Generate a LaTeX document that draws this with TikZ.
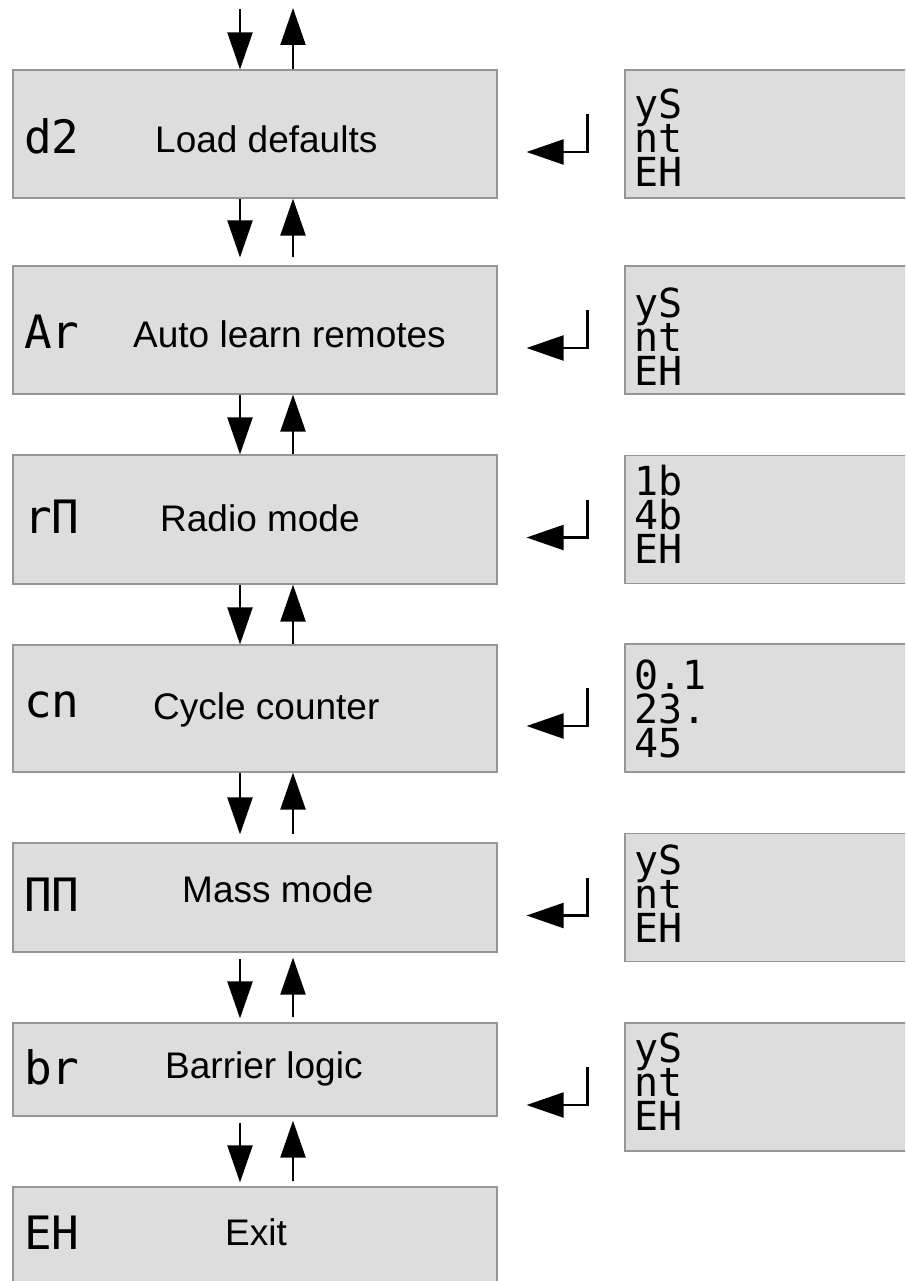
\documentclass[tikz,border=0pt]{standalone}
\usepackage{fontspec}
\setmainfont{Liberation Sans}
\newfontfamily\segfont{DejaVu Sans Mono}
\usetikzlibrary{arrows.meta,calc}
\definecolor{boxfill}{RGB}{221,221,221}
\definecolor{boxedge}{RGB}{150,150,150}
\newcommand{\optlist}[3]{\vtop{\baselineskip=34pt\lineskiplimit=-100pt\lineskip=0pt\hbox{#1}\hbox{#2}\hbox{#3}}}
\begin{document}
\begin{tikzpicture}[x=1pt,y=-1pt,
  menubox/.style={draw=boxedge, fill=boxfill, line width=1.2pt, rectangle, inner sep=0pt, minimum width=484pt},
  optbox/.style={draw=boxedge, fill=boxfill, line width=1.2pt, rectangle, inner sep=0pt, minimum width=340pt, minimum height=128pt},
  codetext/.style={anchor=base west, inner sep=0pt, font={\segfont\fontsize{46}{46}\selectfont}},
  opttext/.style={anchor=base west, inner sep=0pt, font={\segfont\fontsize{40}{34}\selectfont}},
  menutext/.style={anchor=base west, inner sep=0pt, font={\fontsize{37}{44}\selectfont}},
  flow/.style={line width=2.2pt, -{Triangle[length=37pt,width=25pt]}},
]
\useasboundingbox (0,0) rectangle (905,1281);
\clip (0,0) rectangle (905,1281);

% menu boxes
\node[menubox, minimum height=128pt] (b1) at (255,134) {};
\node[menubox, minimum height=128pt] (b2) at (255,330) {};
\node[menubox, minimum height=129pt] (b3) at (255,519.5) {};
\node[menubox, minimum height=127pt] (b4) at (255,708.5) {};
\node[menubox, minimum height=109pt] (b5) at (255,897.5) {};
\node[menubox, minimum height=93pt]  (b6) at (255,1069.5) {};
\node[menubox, minimum height=108pt] (b7) at (255,1241) {};

% option boxes
\node[optbox] (r1) at (795,134) {};
\node[optbox] (r2) at (795,330) {};
\node[optbox] (r3) at (795,519.5) {};
\node[optbox] (r4) at (795,708) {};
\node[optbox] (r5) at (795,897.5) {};
\node[optbox] (r6) at (795,1087) {};

% codes
\node[codetext] (c1) at (24,154) {d2};
\node[codetext] (c2) at (24,348) {Ar};
\node[codetext] (c3) at (24,533) {rΠ};
\node[codetext] (c4) at (24,717) {cn};
\node[codetext] (c5) at (24,911) {ΠΠ};
\node[codetext] (c6) at (24,1084) {br};
\node[codetext] (c7) at (24,1249) {EH};

% labels
\node[menutext] (t1) at (155,153) {Load defaults};
\node[menutext] (t2) at (133,347) {Auto learn remotes};
\node[menutext] (t3) at (160,531) {Radio mode};
\node[menutext] (t4) at (153,719) {Cycle counter};
\node[menutext] (t5) at (182,902) {Mass mode};
\node[menutext] (t6) at (165,1078) {Barrier logic};
\node[menutext] (t7) at (225,1245) {Exit};

% option texts
\node[opttext] (o1) at (634,119) {\optlist{yS}{nt}{EH}};
\node[opttext] (o2) at (634,317) {\optlist{yS}{nt}{EH}};
\node[opttext] (o3) at (634,495) {\optlist{1b}{4b}{EH}};
\node[opttext] (o4) at (634,689) {\optlist{0.1}{23.}{45}};
\node[opttext] (o5) at (634,874) {\optlist{yS}{nt}{EH}};
\node[opttext] (o6) at (634,1062) {\optlist{yS}{nt}{EH}};

% vertical navigation arrows
\coordinate (dx) at (240,0);
\coordinate (ux) at (293,0);
\coordinate (tdn) at (240,9);
\coordinate (tup) at (293,8);
\draw[flow] (tdn) -- (b1.north -| dx);
\draw[flow] (b1.north -| ux) -- (tup);

\draw[flow, shorten >=8pt] (b1.south -| dx) -- (b2.north -| dx);
\draw[flow, shorten <=8pt] (b2.north -| ux) -- (b1.south -| ux);

\draw[flow] (b2.south -| dx) -- (b3.north -| dx);
\draw[flow] (b3.north -| ux) -- (b2.south -| ux);

\draw[flow] (b3.south -| dx) -- (b4.north -| dx);
\draw[flow] (b4.north -| ux) -- (b3.south -| ux);

\draw[flow, shorten >=8pt] (b4.south -| dx) -- (b5.north -| dx);
\draw[flow, shorten <=8pt] (b5.north -| ux) -- (b4.south -| ux);

\draw[flow, shorten <=6pt, shorten >=4pt] (b5.south -| dx) -- (b6.north -| dx);
\draw[flow, shorten <=5pt, shorten >=5pt] (b6.north -| ux) -- (b5.south -| ux);

\draw[flow, shorten <=6pt, shorten >=4pt] (b6.south -| dx) -- (b7.north -| dx);
\draw[flow, shorten <=5pt, shorten >=4pt] (b7.north -| ux) -- (b6.south -| ux);

% return (enter) arrows
\foreach \i in {1,...,6}{
  \coordinate (q\i) at ($(r\i.west)+(-37,-20)$);
  \coordinate (h\i) at ($(r\i.west)+(-37,18)$);
}
\draw[flow, shorten >=29pt] (q1) |- (h1 -| b1.east);
\draw[flow, shorten >=29pt] (q2) |- (h2 -| b2.east);
\draw[flow, shorten >=29pt] (q3) |- (h3 -| b3.east);
\draw[flow, shorten >=29pt] (q4) |- (h4 -| b4.east);
\draw[flow, shorten >=29pt] (q5) |- (h5 -| b5.east);
\draw[flow, shorten >=29pt] (q6) |- (h6 -| b6.east);
\end{tikzpicture}
\end{document}
